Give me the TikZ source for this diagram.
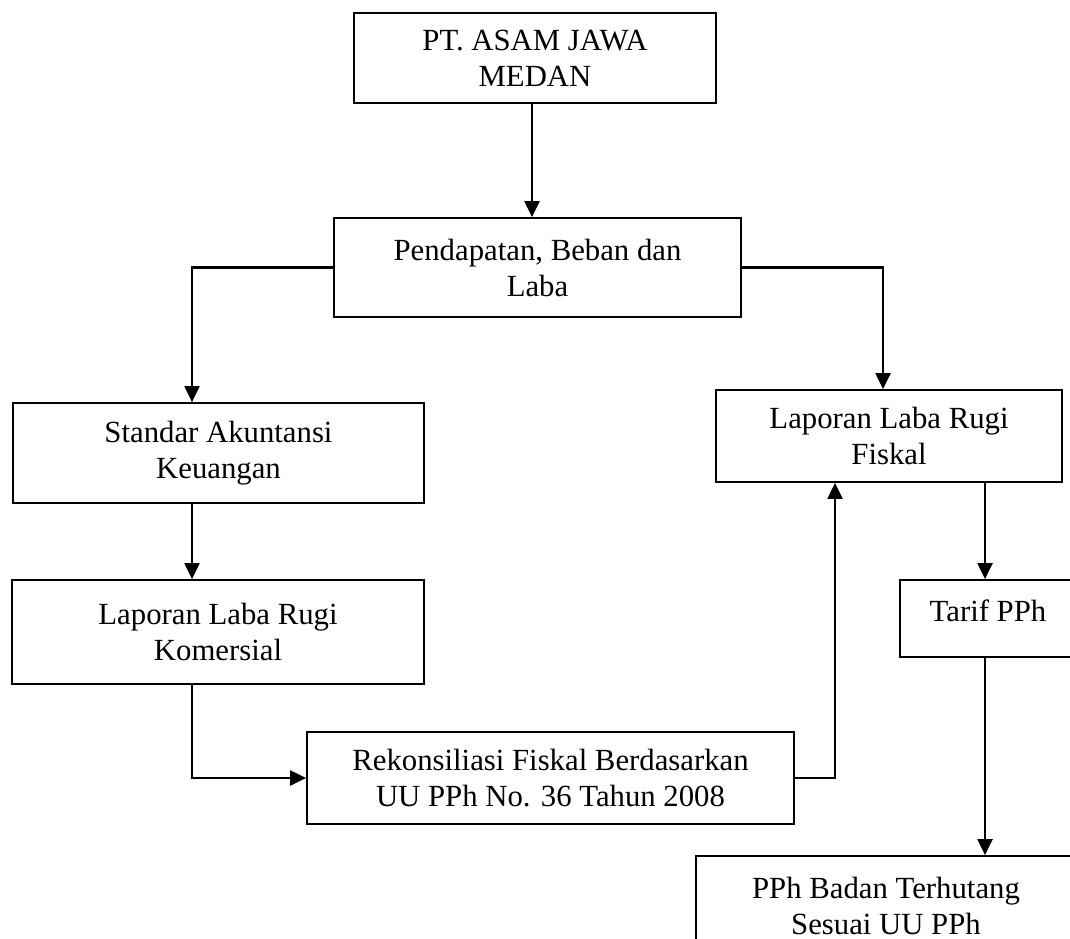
\documentclass[tikz,border=0pt]{standalone}
\usepackage{fontspec}
\setmainfont{Liberation Serif}
\usepackage{tikz}
\usetikzlibrary{arrows.meta,positioning}
\tikzstyle{arrow} = [line width=1.2pt,-{Triangle[length=0.32cm,width=0.3cm]}]
\tikzstyle{box} = [rectangle, draw=black, line width=1pt, align=center, inner sep=0pt, font=\fontsize{17.5}{20.5}\selectfont]

\begin{document}
\begin{tikzpicture}
\useasboundingbox (0,0) rectangle (21.4,-18.76);
\clip (0,0) rectangle (21.4,-18.76);
% Boxes
\node (ptasam) [box, minimum width=7.24cm, minimum height=1.8cm] at (10.7,-1.16) {PT. ASAM JAWA\\MEDAN};
\node (pendapatan) [box, minimum width=8.14cm, minimum height=1.98cm] at (10.75,-5.35) {Pendapatan, Beban dan\\Laba};
\node (sak) [box, minimum width=8.22cm, minimum height=2cm] at (4.37,-9.06) {Standar Akuntansi\\Keuangan};
\node (fiskal) [box, minimum width=6.92cm, minimum height=1.84cm] at (17.78,-8.72) {Laporan Laba Rugi\\Fiskal};
\node (komersial) [box, minimum width=8.24cm, minimum height=2.08cm] at (4.36,-12.64) {Laporan Laba Rugi\\Komersial};
\node (tarif) [box, minimum width=3.52cm, minimum height=1.54cm, text depth=0.32cm] at (19.76,-12.37) {Tarif PPh};
\node (rek) [box, minimum width=9.74cm, minimum height=1.84cm] at (11.01,-15.56) {Rekonsiliasi Fiskal Berdasarkan\\UU PPh No. 36 Tahun 2008};
\node (pphbadan) [box, minimum width=7.6cm, minimum height=2cm] at (17.72,-18.12) {PPh Badan Terhutang\\Sesuai UU PPh};

% Arrows
\draw[arrow] ([xshift=-0.06cm]ptasam.south) -- ([xshift=-0.06cm]ptasam.south |- pendapatan.north);
\draw[arrow] (pendapatan.west) -| ([xshift=-0.53cm]sak.north);
\draw[arrow] (pendapatan.east) -| ([xshift=-0.12cm]fiskal.north);
\draw[arrow] ([xshift=-0.53cm]sak.south) -- ([xshift=-0.53cm]sak.south |- komersial.north);
\draw[arrow] ([xshift=-0.52cm]komersial.south) |- (rek.west);
\draw[arrow] (rek.east) -| ([xshift=-1.08cm]fiskal.south);
\draw[arrow] ([xshift=1.92cm]fiskal.south) -- ([xshift=1.92cm]fiskal.south |- tarif.north);
\draw[arrow] ([xshift=-0.06cm]tarif.south) -- ([xshift=-0.06cm]tarif.south |- pphbadan.north);
\end{tikzpicture}
\end{document}
